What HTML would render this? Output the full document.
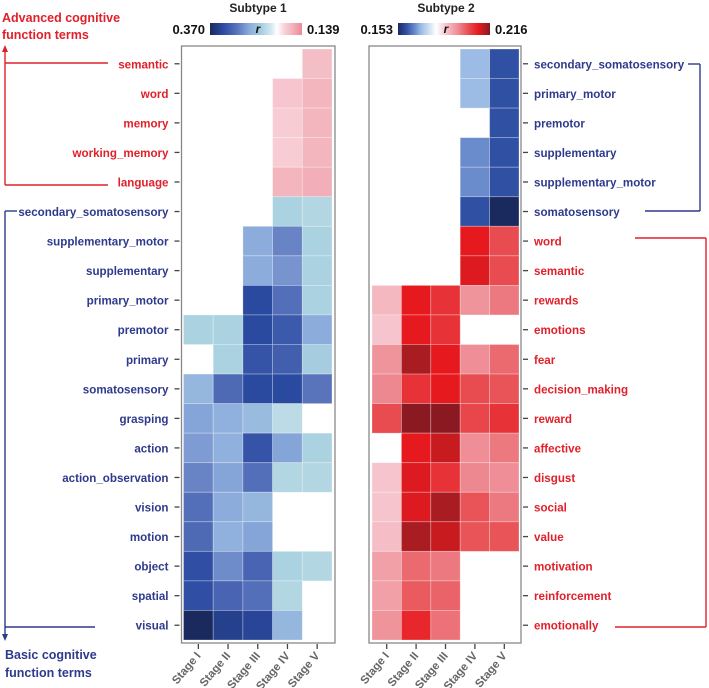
<!DOCTYPE html>
<html><head><meta charset="utf-8"><style>
body{margin:0;background:#fff;}
svg{display:block;font-family:"Liberation Sans",Arial,sans-serif;font-weight:bold;}
</style></head><body>
<svg id="c" width="709" height="688"></svg>
<script>
const stages = ["Stage I","Stage II","Stage III","Stage IV","Stage V"];
const rows1 = ["semantic","word","memory","working_memory","language","secondary_somatosensory","supplementary_motor","supplementary","primary_motor","premotor","primary","somatosensory","grasping","action","action_observation","vision","motion","object","spatial","visual"];
const n = null;
const vals1 = [
[n,n,n,n,0.07],[n,n,n,0.06,0.08],[n,n,n,0.05,0.08],[n,n,n,0.05,0.08],[n,n,n,0.08,0.09],
[n,n,n,-0.08,-0.07],[n,n,-0.15,-0.2,-0.08],[n,n,-0.15,-0.18,-0.08],[n,n,-0.3,-0.23,-0.08],
[-0.08,-0.08,-0.3,-0.27,-0.15],[n,-0.08,-0.28,-0.26,-0.09],[-0.13,-0.24,-0.3,-0.3,-0.22],
[-0.16,-0.14,-0.12,-0.06,n],[-0.17,-0.14,-0.28,-0.16,-0.08],[-0.2,-0.16,-0.23,-0.07,-0.07],
[-0.23,-0.15,-0.13,n,n],[-0.24,-0.14,-0.16,n,n],[-0.29,-0.19,-0.25,-0.08,-0.07],
[-0.29,-0.25,-0.23,-0.07,n],[-0.37,-0.32,-0.31,-0.13,n]];
const rows2 = ["secondary_somatosensory","primary_motor","premotor","supplementary","supplementary_motor","somatosensory","word","semantic","rewards","emotions","fear","decision_making","reward","affective","disgust","social","value","motivation","reinforcement","emotionally"];
const vals2 = [
[n,n,n,-0.06,-0.12],[n,n,n,-0.06,-0.12],[n,n,n,n,-0.12],[n,n,n,-0.085,-0.12],[n,n,n,-0.085,-0.12],
[n,n,n,-0.12,-0.153],[n,n,n,0.17,0.13],[n,n,n,0.175,0.13],[0.05,0.17,0.15,0.08,0.1],
[0.04,0.17,0.15,n,n],[0.08,0.2,0.17,0.085,0.11],[0.09,0.15,0.17,0.13,0.125],
[0.13,0.212,0.212,0.135,0.15],[n,0.17,0.185,0.085,0.1],[0.04,0.175,0.15,0.09,0.085],
[0.04,0.175,0.2,0.125,0.1],[0.045,0.2,0.185,0.125,0.125],[0.07,0.11,0.1,n,n],
[0.07,0.12,0.115,n,n],[0.08,0.16,0.105,n,n]];
const red1 = "#e0202a", blue1 = "#2e3a8c";
const adv1 = 5;
const basic2 = 6;

const NS="http://www.w3.org/2000/svg";
const svg=document.getElementById('c');
function mk(t,a,p){const e=document.createElementNS(NS,t);for(const k in a)e.setAttribute(k,a[k]);(p||svg).appendChild(e);return e;}
function hex(h){return [1,3,5].map(i=>parseInt(h.substr(i,2),16));}
function interp(stops,v){
  if(v<=stops[0][0])return stops[0][1];
  for(let i=1;i<stops.length;i++){if(v<=stops[i][0]){const a=stops[i-1],b=stops[i];const t=(v-a[0])/(b[0]-a[0]);const ca=hex(a[1]),cb=hex(b[1]);return 'rgb('+ca.map((c,j)=>Math.round(c+(cb[j]-c)*t)).join(',')+')';}}
  return stops[stops.length-1][1];
}
const sc1=[[-0.37,"#1a2a5e"],[-0.3,"#2a4aa0"],[-0.22,"#5a74bc"],[-0.15,"#8cacdc"],[-0.08,"#aad2e0"],[-0.03,"#d6e8f0"],[0,"#ffffff"],[0.04,"#f8d4da"],[0.139,"#ec8a98"]];
const sc2=[[-0.153,"#1a2a5e"],[-0.12,"#3050a4"],[-0.085,"#6a8ccc"],[-0.06,"#9cbce6"],[0,"#ffffff"],[0.04,"#f6c4cc"],[0.09,"#ee8890"],[0.13,"#e84c50"],[0.17,"#e61a1e"],[0.2,"#a81c22"],[0.216,"#801820"]];

const y0=49, rh=29.55, fs=11.6;
function panel(x0,cw,rows,vals,sc,name,labelsRight,redTest){
  const g=mk('g',{});
  vals.forEach((r,i)=>r.forEach((v,j)=>{if(v===null)return;
    const c=mk('rect',{x:x0+j*cw,y:y0+i*rh,width:cw,height:rh,fill:interp(sc,v),stroke:'rgba(255,255,255,0.35)','stroke-width':0.8},g);
    
    
  }));
  const bx=labelsRight? x0-3 : x0-2;
  mk('rect',{x:bx,y:y0-3,width:5*cw+5,height:20*rh+6,fill:'none',stroke:'#888','stroke-width':1.3},g);
  rows.forEach((lab,i)=>{
    const y=y0+(i+0.5)*rh;
    const col=redTest(i)?red1:blue1;
    if(labelsRight){
      mk('line',{x1:x0+5*cw+4,x2:x0+5*cw+9,y1:y,y2:y,stroke:'#444','stroke-width':1.3},g);
      const t=mk('text',{x:x0+5*cw+15,y:y+4.5,'font-size':fs,fill:col},g);t.textContent=lab;
      
    }else{
      mk('line',{x1:x0-9,x2:x0-4,y1:y,y2:y,stroke:'#444','stroke-width':1.3},g);
      const t=mk('text',{x:x0-15,y:y+4.5,'font-size':fs,fill:col,'text-anchor':'end'},g);t.textContent=lab;
      
    }
  });
  stages.forEach((s,j)=>{
    const x=x0+(j+0.5)*cw;
    mk('line',{x1:x,x2:x,y1:y0+20*rh+4,y2:y0+20*rh+9,stroke:'#444','stroke-width':1.3},g);
    const t=mk('text',{x:x+3,y:y0+20*rh+16,'font-size':11.5,fill:'#666','text-anchor':'end',transform:`rotate(-50 ${x+3} ${y0+20*rh+16})`},g);t.textContent=s;
    
  });
}
panel(183.5,29.7,rows1,vals1,sc1,'subtype1-heatmap',false,i=>i<adv1);
panel(372,29.4,rows2,vals2,sc2,'subtype2-heatmap',true,i=>i>=basic2);

function cbar(x,lo,hi,title,sc,id){
  const defs=mk('defs',{});const lg=mk('linearGradient',{id:id,x1:0,x2:1,y1:0,y2:0},defs);
  const a=sc[0][0],b=sc[sc.length-1][0];
  sc.forEach(s=>mk('stop',{offset:(s[0]-a)/(b-a),'stop-color':s[1]},lg));
  const g=mk('g',{});
  mk('rect',{x:x,y:23,width:92,height:12,fill:`url(#${id})`},g);
  let t=mk('text',{x:x-5,y:34,'font-size':13,'text-anchor':'end',fill:'#111'},g);t.textContent=lo;
  t=mk('text',{x:x+97,y:34,'font-size':13,fill:'#111'},g);t.textContent=hi;
  t=mk('text',{x:x+48,y:33,'font-size':12,'font-style':'italic','text-anchor':'middle',fill:'#111'},g);t.textContent='r';
  t=mk('text',{x:x+48,y:12,'font-size':12,'text-anchor':'middle',fill:'#222'},g);t.textContent=title;
}
cbar(210,'0.370','0.139','Subtype 1',sc1,'colorbar-subtype1');
cbar(398,'0.153','0.216','Subtype 2',sc2,'colorbar-subtype2');

const L=(x1,y1,x2,y2,c)=>mk('line',{x1,y1,x2,y2,stroke:c,'stroke-width':1.4});
L(5,50,5,185,red1);L(5,63,108,63,red1);L(5,185,108,185,red1);
mk('path',{d:'M2,52 L5,45 L8,52 Z',fill:red1});
L(5,211,5,635,blue1);L(5,211,17,211,blue1);L(5,627,95,627,blue1);
mk('path',{d:'M2,634 L5,641 L8,634 Z',fill:blue1});
L(700,64,700,211,blue1);L(688,64,700,64,blue1);L(645,211,700,211,blue1);
L(706,238,706,627,red1);L(635,238,706,238,red1);L(615,627,706,627,red1);
function txt(x,y,s,c,nm){const t=mk('text',{x,y,'font-size':12.5,fill:c});t.textContent=s;}
txt(2,22,'Advanced cognitive',red1,'advanced-title');
txt(2,39,'function terms',red1,'advanced-title-2');
txt(5,659,'Basic cognitive',blue1,'basic-title');
txt(5,677,'function terms',blue1,'basic-title-2');
</script>
</body></html>
